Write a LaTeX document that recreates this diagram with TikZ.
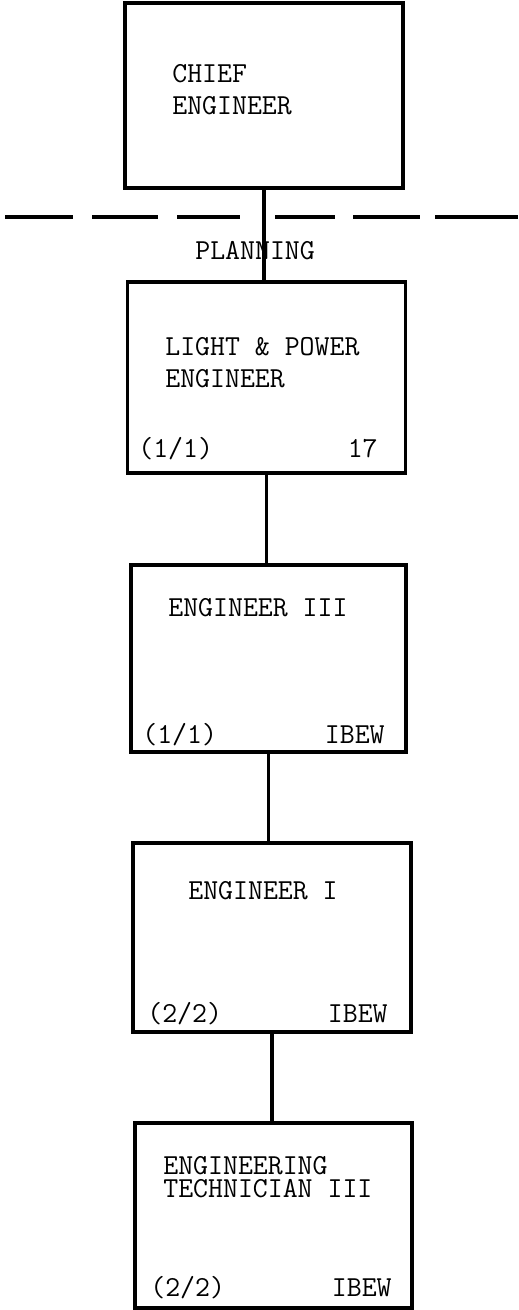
\documentclass[tikz,border=0pt]{standalone}
\usepackage{tikz}

\tikzset{
  post/.style={draw, line width=1.8pt, inner sep=0pt, outer sep=0pt,
    minimum width=5.56cm},
  wire/.style={line width=1.8pt},
  lbl/.style={inner sep=0pt, font=\ttfamily\fontsize{16.5}{18.2}\selectfont},
}

\begin{document}
\begin{tikzpicture}[x=0.02cm, y=-0.02cm]
  \useasboundingbox (0,0) rectangle (519,1310);

  % boxes
  \node[post, minimum height=3.70cm] (chief) at (264,95.5) {};
  \node[post, minimum height=3.82cm] (lpe) at (266.5,377.5) {};
  \node[post, minimum height=3.74cm, minimum width=5.50cm] (engiii) at (268.5,658.5) {};
  \node[post, minimum height=3.78cm] (engi) at (272,937.5) {};
  \node[post, minimum height=3.70cm, minimum width=5.54cm] (tech) at (273.5,1215.5) {};

  % titles
  \node[lbl, anchor=north west, align=left] (chiefT) at (172,64) {CHIEF\\ENGINEER};
  \node[lbl, anchor=north west, align=left] (lpeT) at (165,337) {LIGHT \& POWER\\ENGINEER};
  \node[lbl, anchor=base west] (engiiiT) at (168,616) {ENGINEER III};
  \node[lbl, anchor=base west] (engiT) at (188,899) {ENGINEER I};
  \node[lbl, anchor=north west, align=left,
    font=\ttfamily\fontsize{16.5}{13.2}\selectfont] (techT) at (163,1156)
    {ENGINEERING\\TECHNICIAN III};

  % counts and units
  \node[lbl, anchor=base west] (lpeN) at (138,458) {(1/1)};
  \node[lbl, anchor=base east] (lpeU) at (378,458) {17};
  \node[lbl, anchor=base west] (engiiiN) at (142,743) {(1/1)};
  \node[lbl, anchor=base east] (engiiiU) at (385,743) {IBEW};
  \node[lbl, anchor=base west] (engiN) at (147,1022) {(2/2)};
  \node[lbl, anchor=base east] (engiU) at (388,1022) {IBEW};
  \node[lbl, anchor=base west] (techN) at (150,1296) {(2/2)};
  \node[lbl, anchor=base east] (techU) at (392,1296) {IBEW};

  % division line
  \foreach \a/\b in {5/73, 92/158, 177/240, 275/335, 353/420, 435/518}
    \draw[wire] (\a,217) -- (\b,217);
  \node[lbl, anchor=base west] (plan) at (195,260) {PLANNING};

  % connectors
  \draw[wire] (chief.south) -- (chief.south |- lpe.north);
  \draw[wire] (lpe.south) -- (lpe.south |- engiii.north);
  \draw[wire] (engiii.south) -- (engiii.south |- engi.north);
  \draw[wire] (engi.south) -- (engi.south |- tech.north);
\end{tikzpicture}
\end{document}
